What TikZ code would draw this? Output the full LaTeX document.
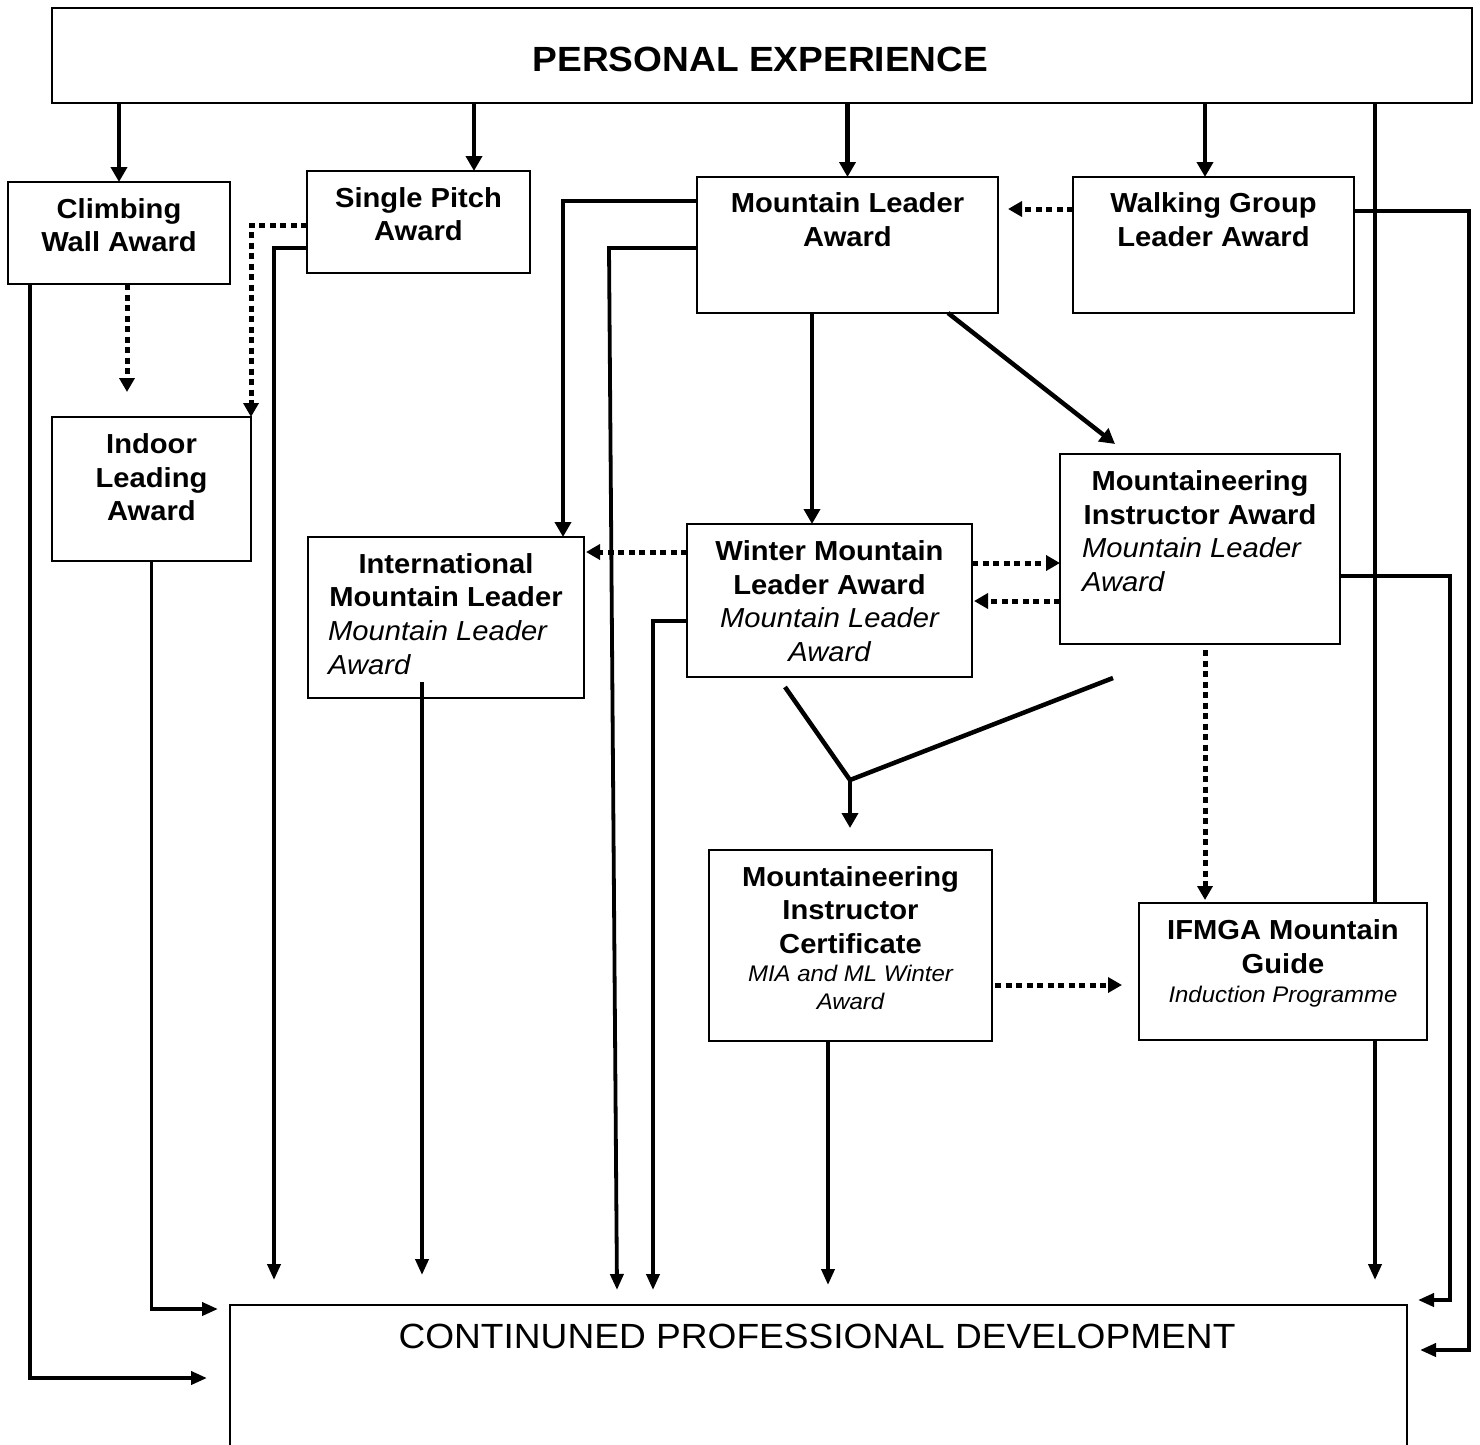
\documentclass[tikz,border=0pt]{standalone}
\usepackage{fontspec}
\newfontfamily\arialx{Liberation Sans}[FakeStretch=1.06]
\usetikzlibrary{arrows.meta}
\begin{document}
\begin{tikzpicture}[x=1pt,y=-1pt,
 box/.style={draw, line width=2pt, fill=white, inner sep=0pt, outer sep=0pt, anchor=north west},
 ln/.style={inner sep=0pt, anchor=base},
 lnw/.style={inner sep=0pt, anchor=base west},
 tb/.style={font=\arialx\fontsize{27.5}{31}\selectfont\bfseries},
 ti/.style={font=\arialx\fontsize{27.5}{31}\selectfont\itshape},
 ts/.style={font=\arialx\fontsize{22.6}{26}\selectfont\itshape},
 conn/.style={line width=4.5pt, -{Triangle[length=15pt,width=16pt]}},
 cpdarrow/.style={line width=3.8pt, -{Triangle[length=16pt,width=13pt]}},
 dotarrow/.style={line width=5pt, dash pattern=on 6pt off 4.5pt, -{Triangle[length=14pt,width=15pt]}},
 plain/.style={line width=4.5pt}
]
\clip (0,0) rectangle (1480,1445);
\fill[white] (0,0) rectangle (1480,1445);

% big boxes
\node[box, minimum width=1420pt, minimum height=95pt] (pe) at (52,8) {};
\node[box, minimum width=1177pt, minimum height=200pt] (cpd) at (230,1305) {};
% line from top straight down to CPD (behind IFMGA box)
\draw[cpdarrow] ([xshift=-97pt]pe.south east) -- ([xshift=-32pt,yshift=25pt]cpd.north east);

% boxes
\node[box, minimum width=222pt, minimum height=102pt] (cw) at (8,182) {};
\node[box, minimum width=223pt, minimum height=102pt] (sp) at (307,171) {};
\node[box, minimum width=301pt, minimum height=136pt] (ml) at (697,177) {};
\node[box, minimum width=281pt, minimum height=136pt] (wg) at (1073,177) {};
\node[box, minimum width=199pt, minimum height=144pt] (il) at (52,417) {};
\node[box, minimum width=276pt, minimum height=161pt] (iml) at (308,537) {};
\node[box, minimum width=285pt, minimum height=153pt] (wml) at (687,524) {};
\node[box, minimum width=280pt, minimum height=190pt] (mia) at (1060,454) {};
\node[box, minimum width=283pt, minimum height=191pt] (mic) at (709,850) {};
\node[box, minimum width=288pt, minimum height=137pt] (ifm) at (1139,903) {};

% texts
\node[ln, font=\arialx\fontsize{35}{40}\selectfont\bfseries] (pet) at (760.5,71) {PERSONAL EXPERIENCE};
\node[ln, font=\arialx\fontsize{35}{40}\selectfont] (cpdt) at (817,1348) {CONTINUNED PROFESSIONAL DEVELOPMENT};

\node[ln,tb] (cw1) at (119,218) {Climbing};
\node[ln,tb] (cw2) at (119,251) {Wall Award};

\node[ln,tb] (sp1) at (418.5,207) {Single Pitch};
\node[ln,tb] (sp2) at (418.5,240) {Award};

\node[ln,tb] (ml1) at (847.5,212) {Mountain Leader};
\node[ln,tb] (ml2) at (847.5,246) {Award};

\node[ln,tb] (wg1) at (1213.5,212) {Walking Group};
\node[ln,tb] (wg2) at (1213.5,246) {Leader Award};

\node[ln,tb] (il1) at (151.5,453) {Indoor};
\node[ln,tb] (il2) at (151.5,487) {Leading};
\node[ln,tb] (il3) at (151.5,520) {Award};

\node[ln,tb] (iml1) at (446,573) {International};
\node[ln,tb] (iml2) at (446,606) {Mountain Leader};
\node[lnw,ti] (iml3) at (328,640) {Mountain Leader};
\node[lnw,ti] (iml4) at (328,674) {Award};

\node[ln,tb] (wml1) at (829.5,560) {Winter Mountain};
\node[ln,tb] (wml2) at (829.5,594) {Leader Award};
\node[ln,ti] (wml3) at (829.5,627) {Mountain Leader};
\node[ln,ti] (wml4) at (829.5,661) {Award};

\node[ln,tb] (mia1) at (1200,490) {Mountaineering};
\node[ln,tb] (mia2) at (1200,524) {Instructor Award};
\node[lnw,ti] (mia3) at (1082,557) {Mountain Leader};
\node[lnw,ti] (mia4) at (1082,591) {Award};

\node[ln,tb] (mic1) at (850.5,886) {Mountaineering};
\node[ln,tb] (mic2) at (850.5,919) {Instructor};
\node[ln,tb] (mic3) at (850.5,953) {Certificate};
\node[ln,ts] (mic4) at (850.5,981) {MIA and ML Winter};
\node[ln,ts] (mic5) at (850.5,1009) {Award};

\node[ln,tb] (ifm1) at (1283,939) {IFMGA Mountain};
\node[ln,tb] (ifm2) at (1283,973) {Guide};
\node[ln,ts] (ifm3) at (1283,1002) {Induction Programme};

% arrows from top box
\draw[conn] (pe.south -| cw.north) -- (cw.north);
\draw[conn] ([xshift=422pt]pe.south west) -- ([xshift=55.5pt]sp.north);
\draw[conn] (pe.south -| ml.north) -- (ml.north);
\draw[conn] ([xshift=1153pt]pe.south west) -- ([xshift=-8.5pt]wg.north);

% bend points
\coordinate (k7) at (609,248);
\coordinate (k11) at (1469,211);
\coordinate (k19) at (1450,576);
\coordinate (j) at (850,780);

% dotted connectors
\draw[dotarrow] ([xshift=8pt]cw.south) -- ([xshift=-24.5pt,yshift=25pt]il.north);
\draw[dotarrow] ([yshift=-3pt]sp.west) -| (il.north east);
\draw[dotarrow] ([yshift=-32pt]wg.north west) -- ([xshift=10pt,yshift=-32pt]ml.north east);
\draw[dotarrow] ([yshift=-28pt]wml.north west) -- ([xshift=2pt,yshift=-15pt]iml.north east);
\draw[dotarrow] ([yshift=-39pt]wml.north east) -- ([yshift=-109pt]mia.north west);
\draw[dotarrow] ([yshift=-147pt]mia.north west) -- ([xshift=2pt,yshift=-77pt]wml.north east);
\draw[dotarrow] ([xshift=5pt,yshift=-6pt]mia.south) -- ([xshift=-78pt,yshift=3pt]ifm.north);
\draw[dotarrow] ([xshift=3pt,yshift=-135pt]mic.north east) -- ([xshift=-17pt,yshift=-82pt]ifm.north west);

% solid connectors between awards
\draw[conn] ([yshift=-24pt]ml.north west) -| ([xshift=-21pt]iml.north east);
\draw[conn] ([xshift=-35.5pt]ml.south) -- ([xshift=-17.5pt]wml.north);
\draw[conn] ([xshift=-50pt]ml.south east) -- ([xshift=55pt,yshift=10pt]mia.north west);
\draw[plain] ([xshift=-44.5pt,yshift=-10pt]wml.south) -- (j);
\draw[plain] ([xshift=-87pt,yshift=-34pt]mia.south) -- (j);
\draw[conn] (j) -- ([xshift=-0.5pt,yshift=22pt]mic.north);

% connectors to CPD
\draw[cpdarrow] ([xshift=22pt]cw.south west) |- ([xshift=-23pt,yshift=-73pt]cpd.north west);
\draw[cpdarrow] (il.south) |- ([xshift=-12pt,yshift=-4pt]cpd.north west);
\draw[cpdarrow] ([yshift=-77pt]sp.north west) -| ([xshift=44pt,yshift=25pt]cpd.north west);
\draw[cpdarrow] ([xshift=114pt,yshift=16pt]iml.south west) -- ([xshift=192pt,yshift=30pt]cpd.north west);
\draw[cpdarrow] ([yshift=-71pt]ml.north west) -- (k7) -- ([xshift=387pt,yshift=15pt]cpd.north west);
\draw[cpdarrow] ([yshift=-97pt]wml.north west) -| ([xshift=423pt,yshift=15pt]cpd.north west);
\draw[cpdarrow] ([xshift=-22.5pt]mic.south) -- ([xshift=598pt,yshift=20pt]cpd.north west);
\draw[cpdarrow] ([yshift=-122pt]mia.north east) -- (k19) |- ([xshift=11pt,yshift=5pt]cpd.north east);
\draw[cpdarrow] ([yshift=-34pt]wg.north east) -- (k11) |- ([xshift=13pt,yshift=-45pt]cpd.north east);
\end{tikzpicture}
\end{document}
